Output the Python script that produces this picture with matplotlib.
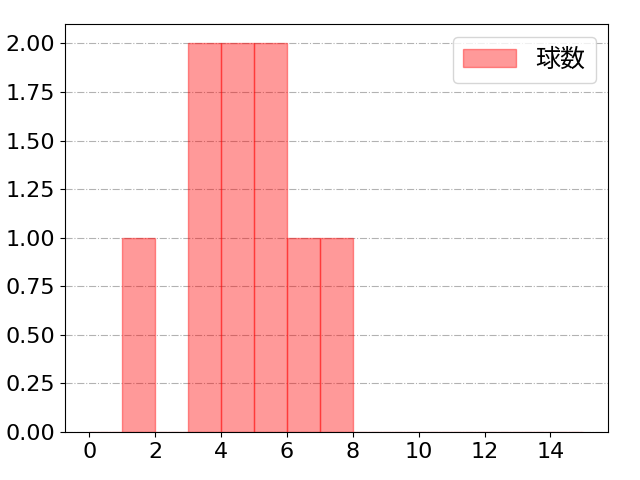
import matplotlib
matplotlib.use("Agg")
import matplotlib.pyplot as plt

plt.rcParams['font.family'] = ['DejaVu Sans', 'Noto Sans CJK JP']
plt.rcParams['font.size'] = 16

# pitch counts per bin (bins of width 1 from 0 to 15)
bin_edges = list(range(0, 16))
counts = [0, 1, 0, 2, 2, 2, 1, 1, 0, 0, 0, 0, 0, 0, 0]
xticks = [0, 2, 4, 6, 8, 10, 12, 14]
label = "球数"

fig, ax = plt.subplots(figsize=(6.4, 4.8), dpi=100)
fig.subplots_adjust(left=0.101, right=0.95, bottom=0.1, top=0.95)
ax.hist(bin_edges[:-1], bins=bin_edges, weights=counts,
        color="red", alpha=0.4, edgecolor="red", label=label)
ax.set_xticks(xticks)
ax.yaxis.set_major_formatter(matplotlib.ticker.FormatStrFormatter('%.2f'))
ax.grid(axis="y", linestyle="-.", color="gray", alpha=0.6)
ax.set_axisbelow(True)
ax.legend(loc="upper right", prop={'family': ['Noto Sans CJK JP'], 'size': 18},
          handlelength=2.1)
fig.savefig("out.png")
